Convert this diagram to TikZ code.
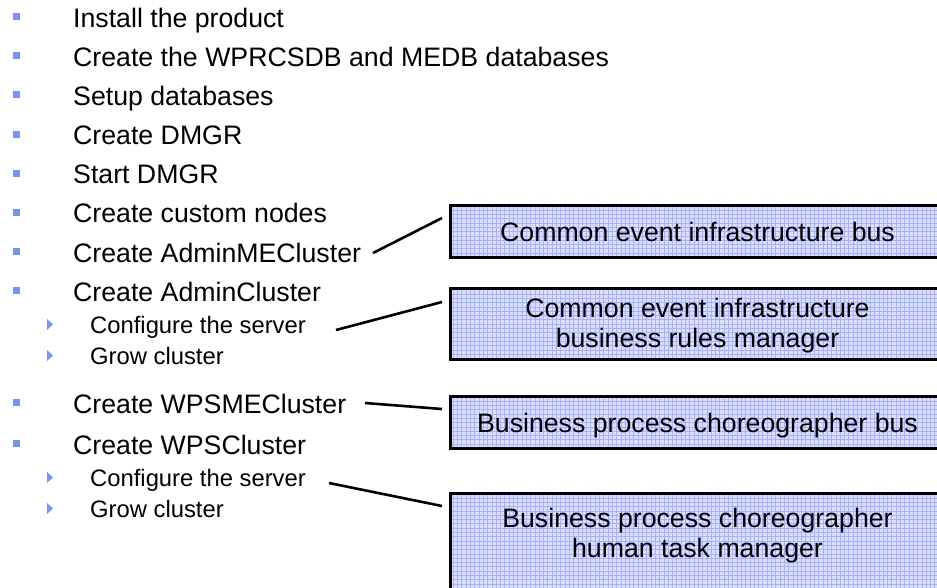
\documentclass[tikz,border=0pt]{standalone}
\usepackage{fontspec}
\setmainfont{Liberation Sans}
\definecolor{bulletblue}{RGB}{125,145,240}
\definecolor{boxfill}{RGB}{218,222,255}
\definecolor{boxgrid}{RGB}{168,178,250}
\tikzset{
  item/.style={anchor=base west, inner sep=0pt, font=\fontsize{26.7}{30}\selectfont},
  subitem/.style={anchor=base west, inner sep=0pt, font=\fontsize{23.8}{28}\selectfont},
  boxtext/.style={anchor=base, inner sep=0pt, font=\fontsize{26.7}{30}\selectfont},
  link/.style={draw=black, line width=2.6pt},
  panel/.style={draw=black, line width=3pt, fill=boxfill, inner sep=0pt,
    path picture={\draw[boxgrid, line width=0.6pt]
      (path picture bounding box.south west) grid[step=4.3pt]
      (path picture bounding box.north east);}}
}
% bullet marks, placed by the baseline of their line
\newcommand\sqbul[1]{\fill[bulletblue] (13,{#1-14}) rectangle (20,{#1-7});}
\newcommand\tribul[1]{\fill[bulletblue] (47,{#1-14}) -- (53,{#1-8.5}) -- (47,{#1-3}) -- cycle;}
\begin{document}
\begin{tikzpicture}[x=1pt,y=-1pt]
\useasboundingbox (0,0) rectangle (937,587);
\clip (0,0) rectangle (937,587);

% task list
\sqbul{27}    \node[item] (m1)  at (73,27)    {Install the product};
\sqbul{66.2}  \node[item] (m2)  at (73,66.2)  {Create the WPRCSDB and MEDB databases};
\sqbul{105.3} \node[item] (m3)  at (73,105.3) {Setup databases};
\sqbul{144.5} \node[item] (m4)  at (73,144.5) {Create DMGR};
\sqbul{183.7} \node[item] (m5)  at (73,183.7) {Start DMGR};
\sqbul{222.8} \node[item] (m6)  at (73,222.8) {Create custom nodes};
\sqbul{262}   \node[item] (m7)  at (73,262)   {Create AdminMECluster};
\sqbul{301}   \node[item] (m8)  at (73,301)   {Create AdminCluster};
\tribul{333}  \node[subitem] (s1) at (90,333) {Configure the server};
\tribul{364}  \node[subitem] (s2) at (90,364) {Grow cluster};
\sqbul{413}   \node[item] (m9)  at (73,413)   {Create WPSMECluster};
\sqbul{454}   \node[item] (m10) at (73,454)   {Create WPSCluster};
\tribul{486}  \node[subitem] (s3) at (90,486) {Configure the server};
\tribul{517}  \node[subitem] (s4) at (90,517) {Grow cluster};

% component panels
\node[panel, minimum width=495.5pt, minimum height=52pt]  (b1) at (698.25,231.5) {};
\node[panel, minimum width=495.5pt, minimum height=71pt]  (b2) at (698.25,324)   {};
\node[panel, minimum width=495.5pt, minimum height=52pt]  (b3) at (698.25,422.5) {};
\node[panel, minimum width=495.5pt, minimum height=112pt] (b4) at (698.25,549.5) {};

\node[boxtext] (t1)  at (697.5,241) {Common event infrastructure bus};
\node[boxtext] (t2a) at (697.5,317) {Common event infrastructure};
\node[boxtext] (t2b) at (697.5,347) {business rules manager};
\node[boxtext] (t3)  at (697.5,432) {Business process choreographer bus};
\node[boxtext] (t4a) at (697.5,527) {Business process choreographer};
\node[boxtext] (t4b) at (697.5,557) {human task manager};

% connectors from the steps to the panels
\coordinate (l1a) at (373,253); \coordinate (l1b) at (442,218);
\coordinate (l2a) at (336,330); \coordinate (l2b) at (442,302);
\coordinate (l3a) at (365,403); \coordinate (l3b) at (442,409);
\coordinate (l4a) at (329,483); \coordinate (l4b) at (442,506);
\draw[link] (l1a) -- (l1b);
\draw[link] (l2a) -- (l2b);
\draw[link] (l3a) -- (l3b);
\draw[link] (l4a) -- (l4b);
\end{tikzpicture}
\end{document}
